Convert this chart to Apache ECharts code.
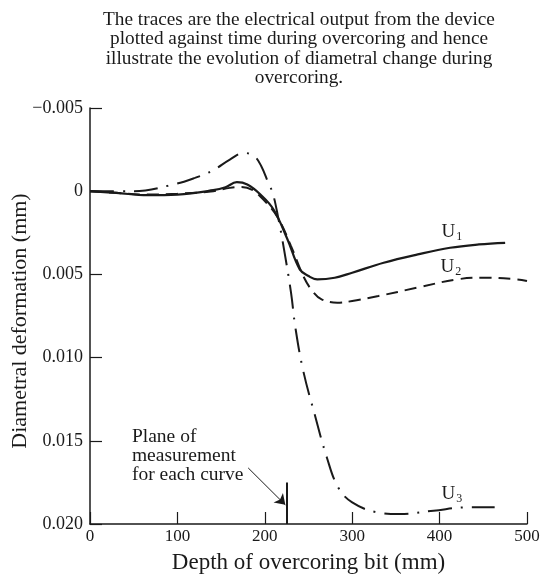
<!DOCTYPE html>
<html>
<head>
<meta charset="utf-8">
<script src="https://cdn.jsdelivr.net/npm/echarts@6/dist/echarts.min.js"></script>
<style>html,body{margin:0;padding:0;background:#fff}#c{width:543px;height:574px}</style>
</head>
<body>
<div id="c"></div>
<script>
// ---- data ----
const titleText = 'The traces are the electrical output from the device\nplotted against time during overcoring and hence\nillustrate the evolution of diametral change during\novercoring.';
const xName = 'Depth of overcoring bit (mm)';
const yName = 'Diametral deformation (mm)';
const xTicks = [0, 100, 200, 300, 400, 500];
const yTicks = [-0.005, 0, 0.005, 0.010, 0.015, 0.020];

const u1X = [0, 30, 66, 100, 141, 155, 168, 180, 195, 210, 226, 240, 250, 260, 280, 300, 336, 375, 412, 445, 475];
const u1Y = [0, 0.0001, 0.00024, 0.0002, -0.00006, -0.00024, -0.00054, -0.0004, 0.0002, 0.0011, 0.0029, 0.0047, 0.0051, 0.0053, 0.0052, 0.0049, 0.0043, 0.0038, 0.0034, 0.0032, 0.0031];

const u2X = [0, 30, 66, 100, 141, 160, 172, 185, 200, 215, 230, 245, 256, 265, 283, 300, 330, 374, 420, 450, 489, 500];
const u2Y = [0, 0.0001, 0.0002, 0.00015, 0.0, -0.0002, -0.00025, -0.0001, 0.0006, 0.0016, 0.0033, 0.0052, 0.0061, 0.0065, 0.0067, 0.0066, 0.0063, 0.0058, 0.0053, 0.0052, 0.0053, 0.0054];

const u3X = [0, 50, 92, 120, 141, 160, 176, 188, 196, 204, 209, 215, 222, 230, 235, 244, 257, 271, 284, 300, 329, 355, 393, 431, 463];
const u3Y = [0, 0, -0.00036, -0.0008, -0.00126, -0.0019, -0.0023, -0.0021, -0.0015, -0.0005, 0.0001, 0.0015, 0.0035, 0.0061, 0.0082, 0.0108, 0.0134, 0.0160, 0.0178, 0.0187, 0.0193, 0.0194, 0.0192, 0.0190, 0.0190];

const planeX = 225;
const planeTop = 0.0175;
const planeText = 'Plane of\nmeasurement\nfor each curve';
const planeTextPos = [48, 0.0159];
const arrowFrom = [181, 0.01663];
const arrowTo = [223.5, 0.01885];

const curveLabels = [
  {name: 'U1', sub: '1', pos: [414, 0.00246]},
  {name: 'U2', sub: '2', pos: [413, 0.00456]},
  {name: 'U3', sub: '3', pos: [414, 0.01819]}
];

// ---- chart ----
const FONT = '"Liberation Serif", "DejaVu Serif", serif';
const INK = '#1a1a1a';
const zip = (xs, ys) => xs.map((x, i) => [x, ys[i]]);

const chart = echarts.init(document.getElementById('c'), null, {renderer: 'canvas'});
chart.setOption({
  animation: false,
  backgroundColor: '#fff',
  textStyle: {fontFamily: FONT, color: INK},
  title: {
    text: titleText,
    left: 294, top: 5, textAlign: 'center',
    textStyle: {fontFamily: FONT, fontSize: 19.3, fontWeight: 'normal', color: INK, lineHeight: 19.5, align: 'center'}
  },
  grid: {left: 90, right: 16, top: 108, bottom: 50, containLabel: false, outerBoundsMode: 'none'},
  xAxis: {
    type: 'value', min: xTicks[0], max: xTicks[xTicks.length - 1], interval: 100,
    name: xName, nameLocation: 'middle', nameGap: 27, nameMoveOverlap: false,
    nameTextStyle: {fontFamily: FONT, fontSize: 23, color: INK},
    axisLine: {show: true, onZero: false, lineStyle: {color: INK, width: 1.5}},
    axisTick: {show: true, inside: true, length: 12, lineStyle: {color: INK, width: 1.2}},
    axisLabel: {fontFamily: FONT, fontSize: 17, color: INK, margin: 4},
    splitLine: {show: false}
  },
  yAxis: {
    type: 'value', inverse: true, min: yTicks[0], max: yTicks[yTicks.length - 1], interval: 0.005,
    name: yName, nameLocation: 'middle', nameGap: 59, nameRotate: 90, nameMoveOverlap: false,
    nameTextStyle: {fontFamily: FONT, fontSize: 22, color: INK, padding: [0, 10, 0, 0]},
    axisLine: {show: true, onZero: false, lineStyle: {color: INK, width: 1.5}},
    axisTick: {show: true, inside: true, length: 12, lineStyle: {color: INK, width: 1.2}},
    axisLabel: {
      fontFamily: FONT, fontSize: 18, color: INK, margin: 7,
      formatter: v => Math.abs(v) < 1e-9 ? '0' : (v < 0 ? '\u2212' + Math.abs(v).toFixed(3) : v.toFixed(3))
    },
    splitLine: {show: false}
  },
  series: [
    {
      name: 'U1', type: 'line', data: zip(u1X, u1Y), smooth: 0.4, showSymbol: false, silent: true,
      lineStyle: {color: INK, width: 2.2, type: 'solid'},
      markLine: {
        silent: true, symbol: ['none', 'none'], label: {show: false},
        data: [
          [{coord: [planeX, planeTop], lineStyle: {color: INK, width: 2, type: 'solid'}}, {coord: [planeX, yTicks[yTicks.length - 1]]}],
          [{coord: arrowFrom, symbol: 'none', lineStyle: {color: INK, width: 1, type: 'solid'}}, {coord: arrowTo, symbol: 'arrow', symbolSize: 10}]
        ]
      },
      markPoint: {
        silent: true, symbol: 'circle', symbolSize: 0,
        data: [
          {coord: planeTextPos, label: {show: true, position: 'right', distance: 0, formatter: planeText, fontFamily: FONT, fontSize: 19.5, color: INK, lineHeight: 18.8, align: 'left', verticalAlign: 'middle'}}
        ].concat(curveLabels.map(c => ({
          coord: c.pos,
          label: {
            show: true, position: 'inside', formatter: 'U{s|' + c.sub + '}',
            fontFamily: FONT, fontSize: 19, color: INK,
            rich: {s: {fontFamily: FONT, fontSize: 12, color: INK, padding: [10, 0, 0, 1]}}
          }
        })))
      }
    },
    {
      name: 'U2', type: 'line', data: zip(u2X, u2Y), smooth: 0.4, showSymbol: false, silent: true,
      lineStyle: {color: INK, width: 2, type: [12, 7]}
    },
    {
      name: 'U3', type: 'line', data: zip(u3X, u3Y), smooth: 0.4, showSymbol: false, silent: true,
      lineStyle: {color: INK, width: 2, type: [24, 9, 2, 9]}
    }
  ]
});
</script>
</body>
</html>
